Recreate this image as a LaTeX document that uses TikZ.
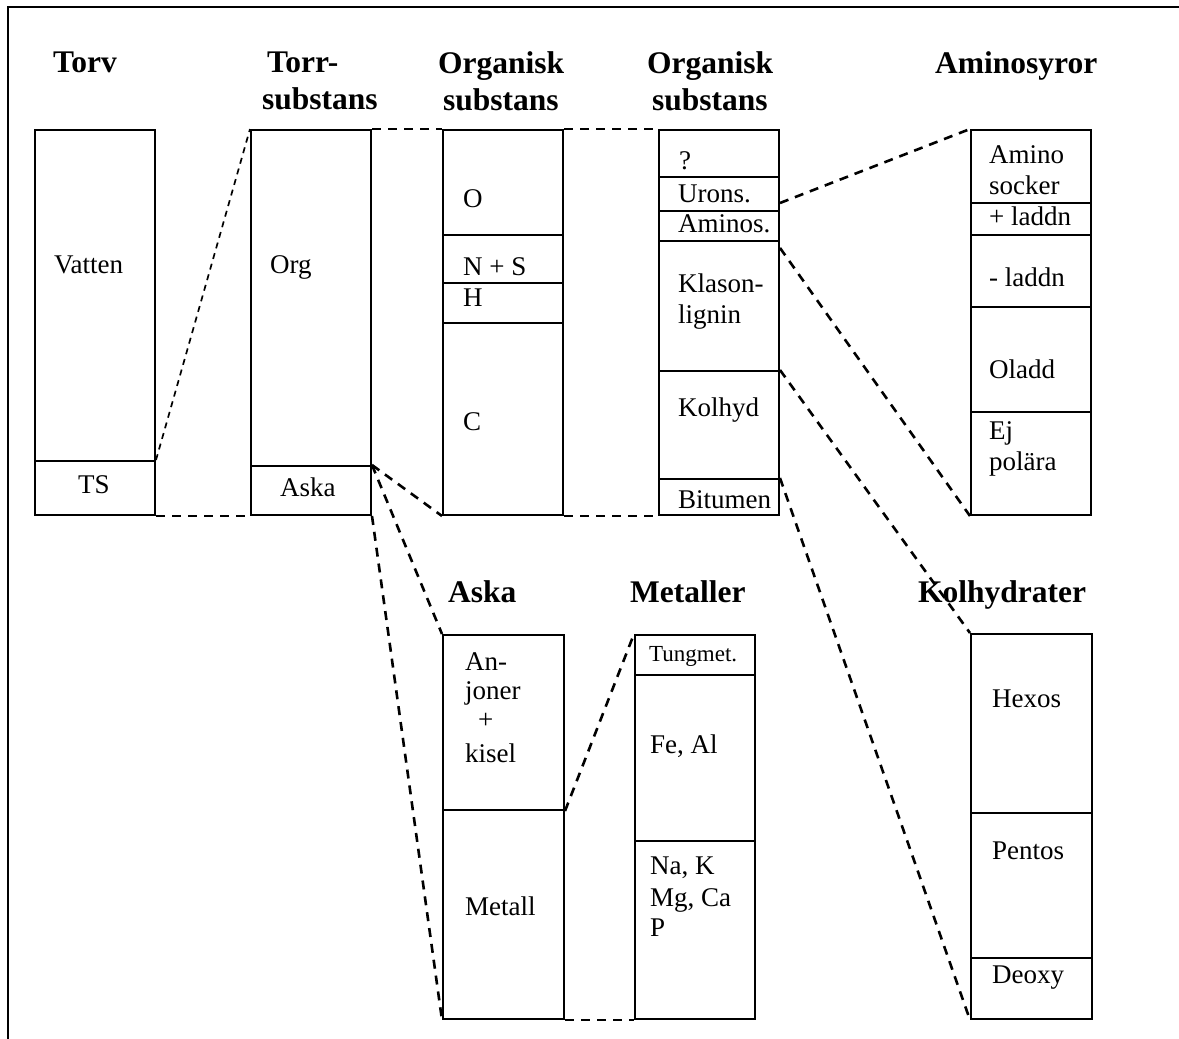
\documentclass[tikz,border=0pt]{standalone}
\usepackage{fontspec}
\setmainfont{Liberation Serif}
\usetikzlibrary{calc}
\begin{document}
\begin{tikzpicture}[x=1pt,y=-1pt,
  seg/.style={draw, line width=2pt, rectangle, inner sep=0pt, anchor=north west, minimum width=120pt},
  lbl/.style={anchor=base west, inner sep=0pt, font=\fontsize{27}{31}\selectfont},
  small/.style={anchor=base west, inner sep=0pt, font=\fontsize{23}{27}\selectfont},
  ttl/.style={anchor=base west, inner sep=0pt, font=\fontsize{31.5}{36}\selectfont\bfseries},
  link/.style={line width=2.6pt, dash pattern=on 9pt off 7pt},
  thinlink/.style={line width=1.7pt, dash pattern=on 6pt off 5pt}]
\useasboundingbox (0,0) rectangle (1179,1039);
% frame (top and left only)
\coordinate (ftl) at (8,7);
\coordinate (ftr) at (1179,7);
\coordinate (fbl) at (8,1039);
\draw[line width=2.8pt] (ftr) -- (ftl) -- (fbl);

% Titles
\node[ttl] (t1) at (53,72) {Torv};
\node[ttl] (t2a) at (267,72) {Torr-};
\node[ttl] (t2b) at (262,109) {substans};
\node[ttl] (t3a) at (438,73) {Organisk};
\node[ttl] (t3b) at (443,110) {substans};
\node[ttl] (t4a) at (647,73) {Organisk};
\node[ttl] (t4b) at (652,110) {substans};
\node[ttl] (t5) at (935,73) {Aminosyror};
\node[ttl] (t6) at (448,602) {Aska};
\node[ttl] (t7) at (630,602) {Metaller};
\node[ttl] (t8) at (918,602) {Kolhydrater};

% Column 1: Torv
\node[seg, minimum height=331pt] (torvw) at (34,129) {};
\node[seg, minimum height=54pt] (torvts) at (34,460) {};
% Column 2: Torrsubstans
\node[seg, minimum height=336pt] (torrorg) at (250,129) {};
\node[seg, minimum height=49pt] (torraska) at (250,465) {};
% Column 3: Organisk substans
\node[seg, minimum height=105pt] (o1o) at (442,129) {};
\node[seg, minimum height=48pt] (o1ns) at (442,234) {};
\node[seg, minimum height=40pt] (o1h) at (442,282) {};
\node[seg, minimum height=192pt] (o1c) at (442,322) {};
% Column 4: Organisk substans
\node[seg, minimum height=47pt] (o2q) at (658,129) {};
\node[seg, minimum height=34pt] (o2ur) at (658,176) {};
\node[seg, minimum height=30pt] (o2am) at (658,210) {};
\node[seg, minimum height=130pt] (o2kl) at (658,240) {};
\node[seg, minimum height=108pt] (o2ko) at (658,370) {};
\node[seg, minimum height=36pt] (o2bi) at (658,478) {};
% Column 5: Aminosyror
\node[seg, minimum height=73pt] (a1) at (970,129) {};
\node[seg, minimum height=32pt] (a2) at (970,202) {};
\node[seg, minimum height=72pt] (a3) at (970,234) {};
\node[seg, minimum height=105pt] (a4) at (970,306) {};
\node[seg, minimum height=103pt] (a5) at (970,411) {};
% Aska
\node[seg, minimum height=175pt, minimum width=121pt] (ak1) at (442,634) {};
\node[seg, minimum height=209pt, minimum width=121pt] (ak2) at (442,809) {};
% Metaller
\node[seg, minimum height=40pt] (m1) at (634,634) {};
\node[seg, minimum height=166pt] (m2) at (634,674) {};
\node[seg, minimum height=178pt] (m3) at (634,840) {};
% Kolhydrater
\node[seg, minimum height=179pt, minimum width=121pt] (k1) at (970,633) {};
\node[seg, minimum height=145pt, minimum width=121pt] (k2) at (970,812) {};
\node[seg, minimum height=61pt, minimum width=121pt] (k3) at (970,957) {};

% Labels
\node[lbl] (lv) at (54,273) {Vatten};
\node[lbl] (lts) at (78,493) {TS};
\node[lbl] (lorg) at (270,273) {Org};
\node[lbl] (lask) at (280,496) {Aska};
\node[lbl] (lo) at (463,207) {O};
\node[lbl] (lns) at (463,275) {N + S};
\node[lbl] (lh) at (463,306) {H};
\node[lbl] (lc) at (463,430) {C};
\node[lbl] (lq) at (679,169) {?};
\node[lbl] (lur) at (678,202) {Urons.};
\node[lbl] (lam) at (678,232) {Aminos.};
\node[lbl] (lkl1) at (678,292) {Klason-};
\node[lbl] (lkl2) at (678,323) {lignin};
\node[lbl] (lko) at (678,416) {Kolhyd};
\node[lbl] (lbi) at (678,508) {Bitumen};
\node[lbl] (la1a) at (989,163) {Amino};
\node[lbl] (la1b) at (989,194) {socker};
\node[lbl] (la2) at (989,225) {+ laddn};
\node[lbl] (la3) at (989,286) {- laddn};
\node[lbl] (la4) at (989,378) {Oladd};
\node[lbl] (la5a) at (989,439) {Ej};
\node[lbl] (la5b) at (989,470) {polära};
\node[lbl] (lak1) at (465,670) {An-};
\node[lbl] (lak2) at (465,699) {joner};
\node[lbl] (lak3) at (478,728) {+};
\node[lbl] (lak4) at (465,762) {kisel};
\node[lbl] (lak5) at (465,915) {Metall};
\node[small] (lm1) at (649,661) {Tungmet.};
\node[lbl] (lm2) at (650,753) {Fe, Al};
\node[lbl] (lm3a) at (650,874) {Na, K};
\node[lbl] (lm3b) at (650,906) {Mg, Ca};
\node[lbl] (lm3c) at (650,936) {P};
\node[lbl] (lk1) at (992,707) {Hexos};
\node[lbl] (lk2) at (992,859) {Pentos};
\node[lbl] (lk3) at (992,983) {Deoxy};

% Connectors
\draw[thinlink] (torvts.north east) -- (torrorg.north west);
\draw[link] (torvts.south east) -- (torraska.south west);
\draw[link] (torrorg.north east) -- (o1o.north west);
\draw[link] (torraska.north east) -- (o1c.south west);
\draw[link] (torraska.north east) -- (ak1.north west);
\draw[link] (torraska.south east) -- (ak2.south west);
\draw[link] (o1o.north east) -- (o2q.north west);
\draw[link] (o1c.south east) -- (o2bi.south west);
\draw[link] ($(o2ur.south east)!0.25!(o2ur.north east)$) -- (a1.north west);
\draw[link] ($(o2kl.north east)!0.06!(o2kl.south east)$) -- (a5.south west);
\draw[link] (o2ko.north east) -- (k1.north west);
\draw[link] (o2bi.north east) -- (k3.south west);
\draw[link] (ak1.south east) -- (m1.north west);
\draw[link] (ak2.south east) -- (m3.south west);
\end{tikzpicture}
\end{document}
